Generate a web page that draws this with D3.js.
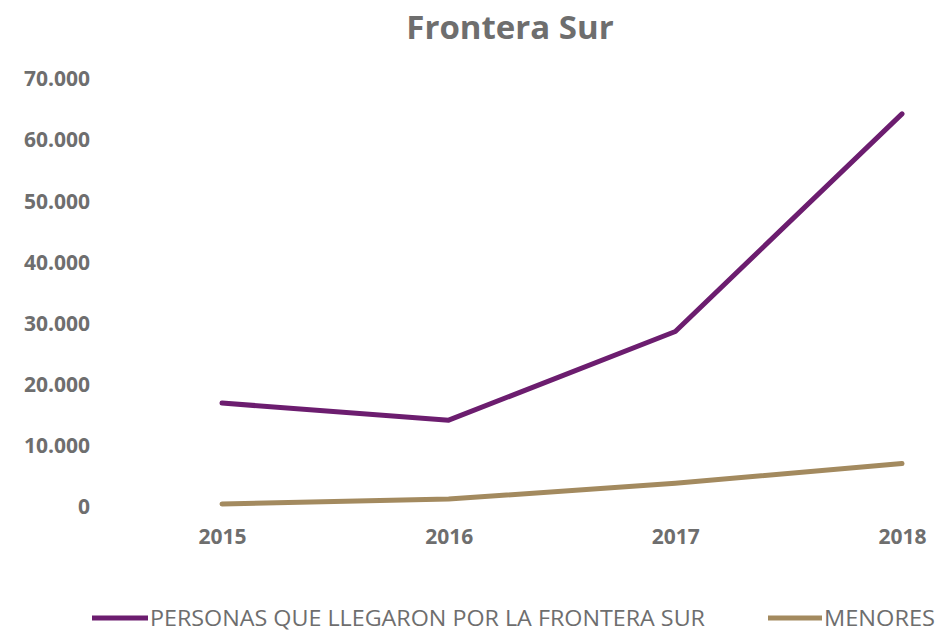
<!DOCTYPE html>
<html>
<head>
<meta charset="utf-8">
<script src="https://cdn.jsdelivr.net/npm/d3@7"></script>
<style>
  body { margin: 0; background: #fff; }
  text { font-family: "Open Sans", "Noto Sans", sans-serif; }
</style>
</head>
<body>
<div id="chart"></div>
<script>
var years = ["2015", "2016", "2017", "2018"]
var personas = [17000, 14200, 28700, 64300]
var menores = [500, 1300, 3900, 7100]
var yTicks = [0, 10000, 20000, 30000, 40000, 50000, 60000, 70000]
var seriesNames = ["PERSONAS QUE LLEGARON POR LA FRONTERA SUR", "MENORES"]
var colors = ["#6c1d6f", "#a38a5f"]

var width = 940, height = 636

var svg = d3.select("#chart")
  .append("svg")
    .attr("width", width)
    .attr("height", height)

var x = d3.scalePoint()
  .domain(years)
  .range([222, 902])

var y = d3.scaleLinear()
  .domain([0, 70000])
  .range([507, 79])

// title
svg.append("text")
  .attr("x", 510)
  .attr("y", 39)
  .attr("text-anchor", "middle")
  .style("font-size", "33px")
  .style("font-weight", "bold")
  .style("fill", "#6e6e6e")
  .text("Frontera Sur")

// y axis (labels only)
var fmt = function (d) {
  return d3.format(",")(d).replace(/,/g, ".")
}
var yAxis = svg.append("g")
  .attr("transform", "translate(90,0)")
  .call(d3.axisLeft(y).tickValues(yTicks).tickFormat(fmt).tickSize(0).tickPadding(0))
yAxis.select(".domain").remove()
yAxis.selectAll("text")
  .style("font-size", "21px")
  .style("font-weight", "bold")
  .style("fill", "#6e6e6e")
  .style("font-family", "'Open Sans', sans-serif")

// x axis (labels only)
var xAxis = svg.append("g")
  .attr("transform", "translate(0,529)")
  .call(d3.axisBottom(x).tickSize(0).tickPadding(0))
xAxis.select(".domain").remove()
xAxis.selectAll("text")
  .style("font-size", "21px")
  .style("font-weight", "bold")
  .style("fill", "#6e6e6e")
  .style("font-family", "'Open Sans', sans-serif")

var line = d3.line()
  .x(function (d, i) { return x(years[i]) })
  .y(function (d) { return y(d) })

var series = [personas, menores]
series.forEach(function (s, i) {
  svg.append("path")
    .attr("d", line(s))
    .attr("fill", "none")
    .attr("stroke", colors[i])
    .attr("stroke-width", 5)
    .attr("stroke-linejoin", "round")
    .attr("stroke-linecap", "round")
})

// legend
var legendPos = [[92, 150, 555], [768, 824, 111]]
seriesNames.forEach(function (name, i) {
  svg.append("line")
    .attr("x1", legendPos[i][0])
    .attr("x2", legendPos[i][1] - 2)
    .attr("y1", 618)
    .attr("y2", 618)
    .attr("stroke", colors[i])
    .attr("stroke-width", 5)
  svg.append("text")
    .attr("x", legendPos[i][1])
    .attr("y", 626)
    .attr("textLength", legendPos[i][2])
    .attr("lengthAdjust", "spacingAndGlyphs")
    .style("font-size", "21px")
    .style("fill", "#6e6e6e")
    .text(name)
})
</script>
</body>
</html>
